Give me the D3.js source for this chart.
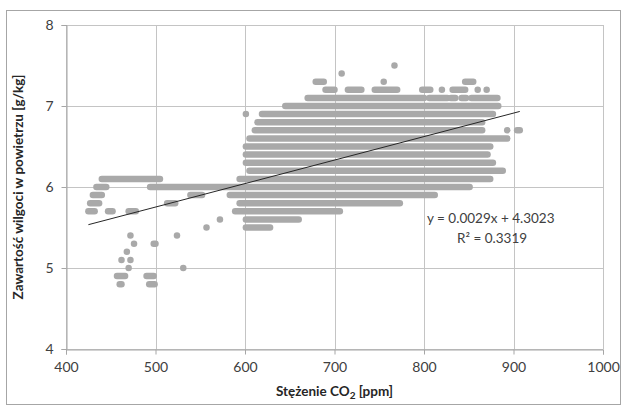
<!DOCTYPE html>
<html>
<head>
<meta charset="utf-8">
<script src="https://cdn.jsdelivr.net/npm/d3@7"></script>
<style>
  body { margin: 0; background: #fff; }
  text { font-family: Lato, "Open Sans", sans-serif; fill: #404040; }
  .axis-title { font-weight: bold; font-size: 13.5px; fill: #262626; }
</style>
</head>
<body>
<div id="chart"></div>
<script>
// humidity levels (g/kg) – each level is one horizontal row of dots
const levels = [4.8, 4.9, 5.0, 5.1, 5.2, 5.3, 5.4, 5.5, 5.6, 5.7, 5.8, 5.9, 6.0,
  6.1, 6.2, 6.3, 6.4, 6.5, 6.6, 6.7, 6.8, 6.9, 7.0, 7.1, 7.2, 7.3, 7.4, 7.5];

// CO2 ranges [from, to] (ppm) covered by dots on each row
const rowRanges = [
  [[460, 462], [493, 499]],                                   // 4.8
  [[457, 466], [490, 498]],                                   // 4.9
  [[470, 470], [531, 531]],                                   // 5.0
  [[462, 462], [472, 472]],                                   // 5.1
  [[468, 468]],                                               // 5.2
  [[476, 476], [498, 500]],                                   // 5.3
  [[472, 472], [524, 524]],                                   // 5.4
  [[557, 557], [601, 628]],                                   // 5.5
  [[572, 572], [601, 660]],                                   // 5.6
  [[425, 432], [447, 452], [470, 478], [589, 706]],           // 5.7
  [[427, 437], [513, 522], [594, 773]],                       // 5.8
  [[430, 440], [539, 552], [583, 812]],                       // 5.9
  [[434, 445], [494, 851]],                                   // 6.0
  [[440, 505], [594, 874]],                                   // 6.1
  [[605, 888]],                                               // 6.2
  [[601, 877]],                                               // 6.3
  [[601, 871]],                                               // 6.4
  [[601, 874]],                                               // 6.5
  [[605, 893]],                                               // 6.6
  [[611, 865], [893, 893], [904, 907]],                       // 6.7
  [[614, 865]],                                               // 6.8
  [[601, 601], [619, 877]],                                   // 6.9
  [[645, 883]],                                               // 7.0
  [[670, 800], [806, 826], [830, 835], [842, 847], [853, 882]], // 7.1
  [[690, 700], [715, 730], [745, 770], [798, 807], [820, 820], [832, 846], [860, 860], [870, 870]], // 7.2
  [[679, 688], [755, 755], [846, 855]],                       // 7.3
  [[708, 708]],                                               // 7.4
  [[767, 767]]                                                // 7.5
];

// linear trend shown on the chart
const trendSlope = 0.0029;
const trendIntercept = 4.3023;
const trendRange = [425, 907];
const trendLabels = ["y = 0.0029x + 4.3023", "R² = 0.3319"];

const xTicks = [400, 500, 600, 700, 800, 900, 1000];
const yTicks = [4, 5, 6, 7, 8];

const W = 628, H = 412;
const margin = {top: 25, right: 25, bottom: 63, left: 66};
const width = W - margin.left - margin.right;
const height = H - margin.top - margin.bottom;

const svg = d3.select("#chart").append("svg")
  .attr("width", W)
  .attr("height", H);

// outer chart frame
svg.append("rect")
  .attr("x", 6.5).attr("y", 10.5)
  .attr("width", 614).attr("height", 394)
  .attr("fill", "#fff")
  .attr("stroke", "#a6a6a6");

const g = svg.append("g")
  .attr("transform", `translate(${margin.left}, ${margin.top})`);

const x = d3.scaleLinear().domain([400, 1000]).range([0, width]);
const y = d3.scaleLinear().domain([4, 8]).range([height, 0]);

// gridlines
g.append("g").selectAll("line.vg")
  .data(xTicks).enter().append("line")
  .attr("x1", d => Math.round(x(d)) + 0.5).attr("x2", d => Math.round(x(d)) + 0.5)
  .attr("y1", 0).attr("y2", height)
  .attr("stroke", "#c4c4c4");
g.append("g").selectAll("line.hg")
  .data(yTicks).enter().append("line")
  .attr("x1", 0).attr("x2", width)
  .attr("y1", d => Math.round(y(d)) + 0.5).attr("y2", d => Math.round(y(d)) + 0.5)
  .attr("stroke", "#c4c4c4");

// axes
const xAxis = d3.axisBottom(x).tickValues(xTicks).tickFormat(d3.format("d")).tickSize(5).tickPadding(8);
const yAxis = d3.axisLeft(y).tickValues(yTicks).tickFormat(d3.format("d")).tickSize(5).tickPadding(8);

const gx = g.append("g")
  .attr("transform", `translate(0, ${Math.round(height) + 0.5})`)
  .call(xAxis);
const gy = g.append("g")
  .attr("transform", "translate(0.5, 0)")
  .call(yAxis);
[gx, gy].forEach(a => {
  a.select(".domain").attr("stroke", "#a6a6a6");
  a.selectAll(".tick line").attr("stroke", "#a6a6a6");
  a.selectAll(".tick text")
    .attr("font-family", "Lato, sans-serif")
    .attr("font-size", 14)
    .attr("fill", "#404040");
});

// dots: each row drawn as runs of touching dots
const rows = [];
levels.forEach((lv, i) => {
  rowRanges[i].forEach(r => rows.push({level: lv, from: r[0], to: r[1]}));
});
g.append("g").selectAll("line.row")
  .data(rows).enter().append("line")
  .attr("x1", d => x(d.from)).attr("x2", d => x(d.to))
  .attr("y1", d => y(d.level)).attr("y2", d => y(d.level))
  .attr("stroke", "#a9a9a9")
  .attr("stroke-width", 6.5)
  .attr("stroke-linecap", "round");

// trend line
g.append("line")
  .attr("x1", x(trendRange[0])).attr("y1", y(trendSlope * trendRange[0] + trendIntercept))
  .attr("x2", x(trendRange[1])).attr("y2", y(trendSlope * trendRange[1] + trendIntercept))
  .attr("stroke", "#262626")
  .attr("stroke-width", 1);

// equation labels
g.append("text")
  .attr("x", 361).attr("y", 198)
  .attr("font-size", 13.5)
  .text(trendLabels[0]);
g.append("text")
  .attr("x", 391).attr("y", 218)
  .attr("font-size", 13.5)
  .text(trendLabels[1]);

// axis titles
const xt = svg.append("text")
  .attr("class", "axis-title")
  .attr("x", margin.left + width / 2)
  .attr("y", 396)
  .attr("text-anchor", "middle");
xt.append("tspan").text("Stężenie CO");
xt.append("tspan").attr("font-size", 10).attr("dy", 3).text("2");
xt.append("tspan").attr("dy", -3).text(" [ppm]");

svg.append("text")
  .attr("class", "axis-title")
  .attr("text-anchor", "middle")
  .attr("transform", `translate(23, ${margin.top + height / 2}) rotate(-90)`)
  .text("Zawartość wilgoci w powietrzu [g/kg]");
</script>
</body>
</html>
